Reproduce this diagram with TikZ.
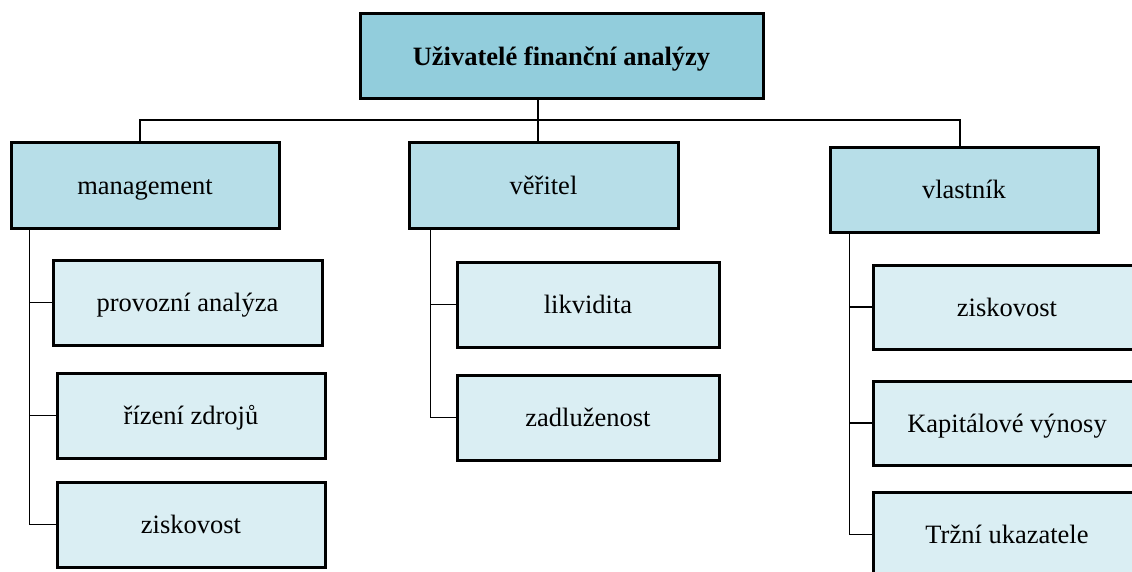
\documentclass[tikz,border=0pt]{standalone}
\usepackage{fontspec}
\setmainfont{Liberation Serif}
\definecolor{headfill}{RGB}{146,205,220}
\definecolor{groupfill}{RGB}{183,222,232}
\definecolor{itemfill}{RGB}{218,238,243}
\tikzset{
  box/.style={draw=black, line width=3pt, rectangle, minimum height=85pt,
    inner sep=0pt, text height=18pt, text depth=0pt,
    font=\fontsize{26.5}{30}\selectfont},
  headbox/.style={box, fill=headfill, minimum width=403pt,
    font=\fontsize{26.5}{30}\selectfont\bfseries},
  groupbox/.style={box, fill=groupfill, minimum width=268pt},
  itembox/.style={box, fill=itemfill, minimum width=268pt},
  link/.style={draw=black, line width=1.8pt}
}
\begin{document}
\begin{tikzpicture}[x=1pt,y=-1pt]
\clip (0,0) rectangle (1132,572);
\fill[white] (0,0) rectangle (1132,572);

% junction on the horizontal bus below the title
\coordinate (hub) at (538,120);

% top level
\node[headbox] (top) at (561.5,56.5) {Uživatelé finanční analýzy};

% user groups
\node[groupbox] (mg) at (145,185.5) {management};
\node[groupbox, minimum width=269pt] (ve) at (543.5,185.5) {věřitel};
\node[groupbox, minimum height=84pt] (vl) at (964,190) {vlastník};

% management items
\node[itembox, minimum width=269pt] (m1) at (187.5,302.5) {provozní analýza};
\node[itembox] (m2) at (191,415.5) {řízení zdrojů};
\node[itembox] (m3) at (191,524.5) {ziskovost};

% creditor items
\node[itembox, minimum width=262pt] (v1) at (588,304.5) {likvidita};
\node[itembox, minimum width=262pt] (v2) at (588,417.5) {zadluženost};

% owner items
\node[itembox, minimum height=84pt] (o1) at (1007,307) {ziskovost};
\node[itembox, minimum height=84pt] (o2) at (1007,423) {Kapitálové výnosy};
\node[itembox] (o3) at (1007,534.5) {Tržní ukazatele};

% tree lines
\draw[link] (top.south -| hub) -- (hub);
\draw[link] ([xshift=-5pt]mg.north) |- (hub) -| ([xshift=-4pt]vl.north);
\draw[link] (hub) -- (ve.north -| hub);

\draw[link] ([xshift=20pt]mg.south west) |- (m1.west);
\draw[link] ([xshift=20pt]mg.south west) |- (m2.west);
\draw[link] ([xshift=20pt]mg.south west) |- (m3.west);

\draw[link] ([xshift=23pt]ve.south west) |- (v1.west);
\draw[link] ([xshift=23pt]ve.south west) |- (v2.west);

\draw[link] ([xshift=21pt]vl.south west) |- (o1.west);
\draw[link] ([xshift=21pt]vl.south west) |- (o2.west);
\draw[link] ([xshift=21pt]vl.south west) |- (o3.west);
\end{tikzpicture}
\end{document}
